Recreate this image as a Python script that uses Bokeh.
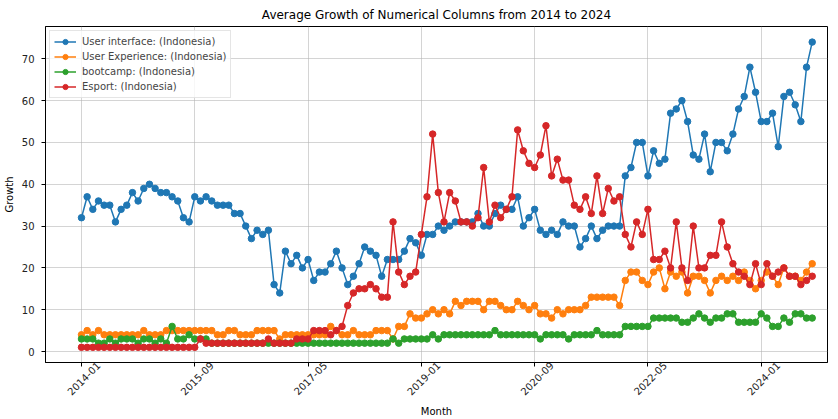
import math
import pandas as pd
from bokeh.plotting import figure
from bokeh.models import Range1d, FixedTicker, ColumnDataSource, LinearAxis
from bokeh.embed import file_html
from bokeh.resources import INLINE

# ---- data ----
user_interface = [
    32, 37, 34, 36, 35, 35, 31, 34, 35, 38, 36, 39, 40, 39, 38, 38, 37, 36, 32, 31,
    37, 36, 37, 36, 35, 35, 35, 33, 33, 30, 27, 29, 28, 29, 16, 14, 24, 21, 23, 20,
    22, 17, 19, 19, 21, 24, 20, 16, 18, 21, 25, 24, 23, 18, 22, 22, 22, 24, 27, 26,
    23, 28, 28, 30, 29, 30, 31, 31, 31, 31, 33, 30, 30, 33, 35, 34, 34, 37, 30, 32,
    34, 29, 28, 29, 28, 31, 30, 30, 25, 27, 30, 27, 29, 30, 30, 30, 42, 44, 50, 50,
    42, 48, 45, 46, 57, 58, 60, 55, 47, 46, 52, 43, 50, 50, 48, 52, 58, 61, 68, 62,
    55, 55, 57, 49, 61, 62, 59, 55, 68, 74,
]
user_experience = [
    4, 5, 4, 5, 4, 4, 4, 4, 4, 4, 4, 5, 4, 4, 4, 5, 5, 5, 5, 5,
    5, 5, 5, 5, 4, 4, 5, 5, 4, 4, 4, 5, 5, 5, 5, 3, 4, 4, 4, 4,
    4, 4, 4, 4, 6, 5, 4, 4, 5, 4, 4, 4, 5, 5, 5, 3, 6, 6, 9, 8,
    8, 9, 10, 9, 10, 9, 12, 11, 12, 12, 12, 10, 12, 12, 11, 10, 10, 12, 11, 10,
    11, 9, 9, 8, 10, 9, 10, 10, 10, 11, 13, 13, 13, 13, 13, 11, 17, 19, 19, 17,
    16, 19, 20, 15, 19, 18, 19, 14, 18, 18, 17, 14, 17, 18, 17, 18, 17, 19, 17, 15,
    17, 19, 18, 16, 20, 18, 18, 17, 19, 21,
]
bootcamp = [
    3, 3, 3, 2, 2, 3, 2, 3, 3, 3, 2, 3, 3, 2, 3, 2, 6, 3, 3, 4,
    3, 3, 3, 2, 2, 2, 2, 2, 2, 2, 2, 2, 2, 2, 2, 2, 2, 2, 2, 2,
    2, 2, 2, 2, 2, 2, 2, 2, 2, 2, 2, 2, 2, 2, 2, 3, 2, 3, 3, 3,
    3, 3, 4, 3, 4, 4, 4, 4, 4, 4, 4, 4, 4, 5, 4, 4, 4, 4, 4, 4,
    4, 3, 4, 4, 4, 4, 3, 4, 4, 4, 4, 5, 4, 4, 4, 4, 6, 6, 6, 6,
    6, 8, 8, 8, 8, 8, 7, 7, 8, 9, 8, 7, 8, 8, 9, 9, 7, 7, 7, 7,
    9, 8, 6, 6, 8, 7, 9, 9, 8, 8,
]
esport = [
    1, 1, 1, 1, 1, 1, 1, 1, 1, 1, 1, 1, 1, 1, 1, 1, 1, 1, 1, 1,
    1, 3, 2, 2, 2, 2, 2, 2, 2, 2, 2, 2, 2, 3, 2, 2, 2, 2, 3, 3,
    3, 5, 5, 5, 4, 5, 6, 11, 14, 15, 15, 16, 15, 13, 13, 31, 19, 16, 18, 19,
    28, 37, 52, 38, 31, 38, 36, 31, 31, 30, 32, 44, 31, 35, 32, 34, 37, 53, 48, 45,
    44, 47, 54, 42, 46, 41, 41, 35, 34, 37, 33, 42, 33, 39, 36, 37, 28, 25, 31, 28,
    34, 22, 22, 24, 20, 31, 20, 17, 30, 20, 20, 23, 23, 31, 25, 21, 19, 18, 16, 21,
    16, 21, 18, 19, 20, 18, 18, 16, 17, 18,
]
series_names = [
    "User interface: (Indonesia)",
    "User Experience: (Indonesia)",
    "bootcamp: (Indonesia)",
    "Esport: (Indonesia)",
]
series_colors = ["#1f77b4", "#ff7f0e", "#2ca02c", "#d62728"]
TICK_LABELS = ["2014-01", "2015-09", "2017-05", "2019-01", "2020-09", "2022-05", "2024-01"]
Y_TICKS = [0, 10, 20, 30, 40, 50, 60, 70]

months = pd.date_range("2014-01-01", periods=len(user_interface), freq="MS").strftime("%Y-%m").tolist()
idx = list(range(len(months)))

FONT = "DejaVu Sans"
X0, X1 = -6.35, 131.7
LABEL_SHIFT = 3.0  # rotated labels are centred on their ticks, as in the reference

p = figure(
    frame_width=782, frame_height=336,
    min_border_left=38, min_border_right=10, min_border_top=19, min_border_bottom=48,
    x_range=Range1d(X0, X1), y_range=Range1d(-2.63, 77.73),
    output_backend="svg", toolbar_location=None,
    title="Average Growth of Numerical Columns from 2014 to 2024",
)
p.title.align = "center"
p.title.text_font = FONT
p.title.text_font_style = "normal"
p.title.text_font_size = "12px"
p.title.text_color = "black"

for name, vals, color in zip(series_names, [user_interface, user_experience, bootcamp, esport], series_colors):
    src = ColumnDataSource(dict(x=idx, y=vals, month=months))
    p.line("x", "y", source=src, line_color=color, line_width=1.5, legend_label=name)
    p.scatter("x", "y", source=src, size=6.5, fill_color=color, line_color=color, legend_label=name)

tick_pos = [months.index(t) for t in TICK_LABELS]

# main x axis: tick marks only
main_x = p.xaxis[0]
main_x.ticker = FixedTicker(ticks=tick_pos)
main_x.major_label_overrides = {pos: "" for pos in tick_pos}
main_x.major_label_text_font_size = "0px"
main_x.major_label_standoff = 0
main_x.axis_line_color = "black"
main_x.major_tick_line_color = "black"
main_x.major_tick_out = 4
main_x.major_tick_in = 0
main_x.minor_tick_line_color = None

# label axis: carries the month tick labels and the "Month" title
p.extra_x_ranges = {"labels": Range1d(X0 - LABEL_SHIFT, X1 - LABEL_SHIFT)}
lab_x = LinearAxis(x_range_name="labels", ticker=FixedTicker(ticks=tick_pos))
lab_x.major_label_overrides = {pos: lab for pos, lab in zip(tick_pos, TICK_LABELS)}
lab_x.major_label_orientation = math.pi / 4
lab_x.major_label_text_font = FONT
lab_x.major_label_text_font_size = "10px"
lab_x.major_label_text_color = "#222222"
lab_x.major_label_standoff = -3
lab_x.axis_line_color = None
lab_x.major_tick_line_color = None
lab_x.minor_tick_line_color = None
lab_x.major_tick_out = 0
lab_x.major_tick_in = 0
lab_x.axis_label = "Month"
lab_x.axis_label_text_font = FONT
lab_x.axis_label_text_font_size = "10px"
lab_x.axis_label_text_font_style = "normal"
lab_x.axis_label_text_color = "black"
lab_x.axis_label_standoff = 4
p.add_layout(lab_x, "below")

ya = p.yaxis[0]
ya.ticker = FixedTicker(ticks=Y_TICKS)
ya.major_label_text_font = FONT
ya.major_label_text_font_size = "10px"
ya.major_label_text_color = "#222222"
ya.axis_label = "Growth"
ya.axis_label_text_font = FONT
ya.axis_label_text_font_size = "10px"
ya.axis_label_text_font_style = "normal"
ya.axis_label_text_color = "black"
ya.axis_line_color = "black"
ya.major_tick_line_color = "black"
ya.major_tick_out = 4
ya.major_tick_in = 0
ya.minor_tick_line_color = None
ya.major_label_standoff = 7
ya.axis_label_standoff = 4

p.grid.grid_line_color = "#b0b0b0"
p.grid.grid_line_alpha = 0.55
p.grid.grid_line_width = 1
p.outline_line_color = "black"
p.outline_line_alpha = 1

p.legend.location = "top_left"
p.legend.margin = 4
p.legend.padding = 4
p.legend.spacing = 2
p.legend.glyph_width = 22
p.legend.glyph_height = 13
p.legend.label_height = 13
p.legend.label_standoff = 6
p.legend.label_text_font = FONT
p.legend.label_text_font_size = "10px"
p.legend.border_line_color = "#cccccc"
p.legend.background_fill_alpha = 0.8

open("out.html", "w").write(file_html(p, INLINE))
